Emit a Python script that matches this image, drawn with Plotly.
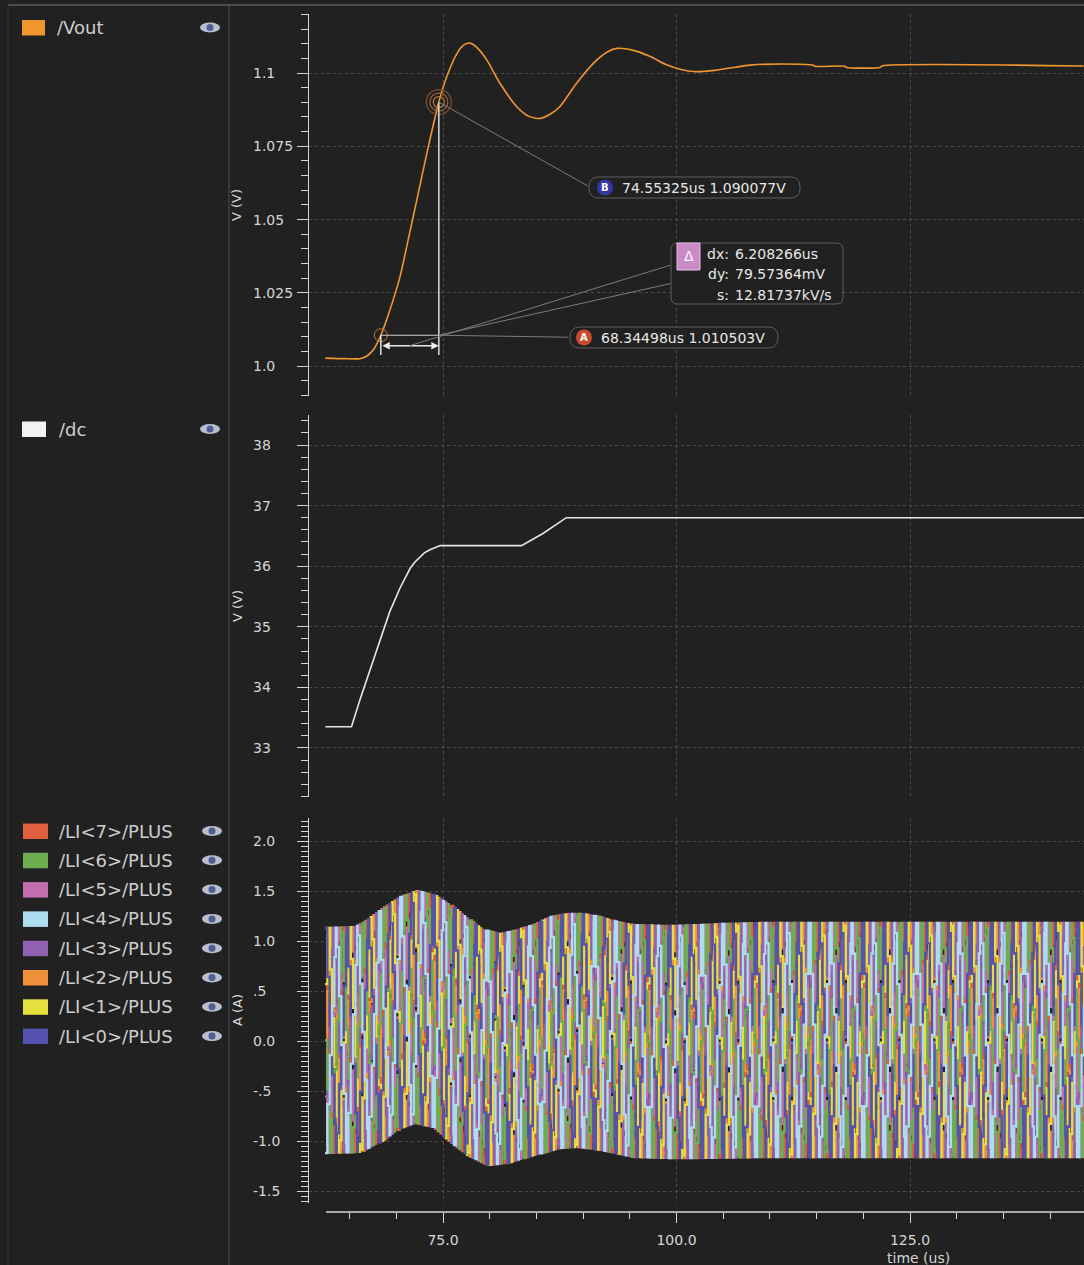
import numpy as np
import plotly.graph_objects as go

W, H = 1084, 1265

# ---------------- data ----------------
# /Vout transient (time in us, volts)
vout_t = [62.4, 64.5, 66.1, 66.9, 67.6, 68.34498, 69.2, 70.4, 71.3, 72.2, 73.3, 74.55325,
          75.4, 76.5, 77.2, 77.9, 78.7, 79.7, 81.1, 82.9, 84.2, 85.4, 86.5, 87.5, 89.3,
          91.1, 92.5, 93.6, 95.3, 97.2, 99.0, 100.5, 101.8, 104.3, 107.9, 111.4, 114.6,
          114.8, 118.0, 118.2, 121.8, 122.0, 143.6]
vout_v = [1.0027, 1.0025, 1.0025, 1.0035, 1.0058, 1.010503, 1.0180, 1.0305, 1.0435, 1.0567,
          1.0730, 1.090077, 1.0987, 1.1067, 1.1095, 1.1102, 1.1085, 1.1044, 1.0965, 1.0885,
          1.0852, 1.0845, 1.0860, 1.0885, 1.0965, 1.1033, 1.1070, 1.1084, 1.1078, 1.1056,
          1.1027, 1.1012, 1.1005, 1.1010, 1.1027, 1.1031, 1.1027, 1.1023, 1.1023, 1.1019,
          1.1019, 1.1024, 1.1024]

# /dc input (time in us, volts)
dc_t = [62.4, 65.2, 66.1, 67.2, 68.25, 69.3, 70.4, 71.5, 72.0, 72.5, 73.0, 73.6, 74.0,
        74.7, 83.4, 85.7, 88.2, 143.6]
dc_v = [33.35, 33.35, 33.79, 34.29, 34.78, 35.25, 35.64, 35.97, 36.07, 36.15, 36.22, 36.27,
        36.30, 36.34, 36.34, 36.54, 36.80, 36.80]

# phase-current envelope: peaks and valleys (time in us, amps)
env_hi_t = [62.37, 65.58, 66.86, 68.58, 70.40, 72.22, 73.93, 75.75, 77.57, 79.28, 81.10,
            82.92, 84.64, 86.46, 88.28, 89.99, 91.81, 93.63, 95.34, 98.98, 102.52, 104.66,
            108.9, 118.6, 143.6]
env_hi = [1.13, 1.14, 1.21, 1.33, 1.44, 1.50, 1.46, 1.36, 1.23, 1.11, 1.07, 1.11, 1.16,
          1.24, 1.27, 1.27, 1.24, 1.19, 1.16, 1.15, 1.16, 1.17, 1.18, 1.18, 1.18]
env_lo_t = [62.37, 66.1, 68.58, 70.40, 72.0, 73.93, 75.75, 77.57, 79.71, 81.85, 84.71,
            87.57, 89.4, 91.9, 95.4, 99.0, 102.5, 110.0, 143.6]
env_lo = [-1.12, -1.11, -0.99, -0.87, -0.82, -0.86, -1.01, -1.14, -1.24, -1.22, -1.14,
          -1.07, -1.06, -1.09, -1.16, -1.17, -1.17, -1.16, -1.16]

SW_PERIOD = 2.3    # switching period of each phase, us
COL_STEP = 0.25    # display column width, us (one vertical bar per column)
phase_names = ["/LI<7>/PLUS", "/LI<6>/PLUS", "/LI<5>/PLUS", "/LI<4>/PLUS",
               "/LI<3>/PLUS", "/LI<2>/PLUS", "/LI<1>/PLUS", "/LI<0>/PLUS"]
phase_colors = ["#e0603e", "#6fae50", "#c46eb2", "#aedcf0",
                "#9262b2", "#f0923c", "#e6e03e", "#5552b0"]
phase_index = [7, 6, 5, 4, 3, 2, 1, 0]
draw_order = [7, 2, 5, 3, 1, 6, 0, 4]   # bottom-most first

# cursors
cur_a = (68.34498, 1.010503)
cur_b = (74.55325, 1.090077)
delta_text = [("dx:", "6.208266us"), ("dy:", "79.57364mV"), ("s:", "12.81737kV/s")]

# axis ticks
t_range = [60.653, 143.63]
top_range = [0.98976, 1.12014]
mid_range = [32.191, 38.495]
bot_range = [-1.62, 2.23]
top_ticks = [1.0, 1.025, 1.05, 1.075, 1.1]
top_labels = ["1.0", "1.025", "1.05", "1.075", "1.1"]
mid_ticks = [33, 34, 35, 36, 37, 38]
mid_labels = ["33", "34", "35", "36", "37", "38"]
bot_ticks = [-1.5, -1.0, -0.5, 0.0, 0.5, 1.0, 1.5, 2.0]
bot_labels = ["-1.5", "-1.0", "-.5", "0.0", ".5", "1.0", "1.5", "2.0"]

# ---------------- helpers ----------------
BG = "#212121"
FG = "#d6d6d6"
TXT = "#e8e8e8"
FONT = "DejaVu Sans"


def px(x):
    return x / W


def py(y):
    return 1 - y / H


def pill(x0, y0, x1, y1, r):
    P = lambda x, y: f"{px(x):.5f},{py(y):.5f}"
    return (f"M {P(x0 + r, y0)} L {P(x1 - r, y0)} Q {P(x1, y0)} {P(x1, y0 + r)} "
            f"L {P(x1, y1 - r)} Q {P(x1, y1)} {P(x1 - r, y1)} L {P(x0 + r, y1)} "
            f"Q {P(x0, y1)} {P(x0, y1 - r)} L {P(x0, y0 + r)} Q {P(x0, y0)} {P(x0 + r, y0)} Z")


def label(text, x, y, size=14, color=TXT, xanchor="center", **kw):
    return dict(text=text, x=px(x), y=py(y), xref="paper", yref="paper", xanchor=xanchor,
                yanchor="middle", showarrow=False, font=dict(size=size, color=color), **kw)


fig = go.Figure()

# ---------------- traces ----------------
fig.add_trace(go.Scatter(x=vout_t, y=vout_v, mode="lines", xaxis="x", yaxis="y",
                         line=dict(color="#f0962e", width=1.6, shape="spline", smoothing=0.7),
                         hoverinfo="skip"))
fig.add_trace(go.Scatter(x=dc_t, y=dc_v, mode="lines", xaxis="x2", yaxis="y2",
                         line=dict(color="#e6e6e6", width=1.6), hoverinfo="skip"))

# each phase current swings between the envelope valley and peak every half period;
# like a waveform viewer, every display column shows the span the phase covers in it
n_ph = len(phase_names)
t0, t1 = env_hi_t[0], env_hi_t[-1]
cols = np.arange(t0, t1 + COL_STEP, COL_STEP)
for n in draw_order:
    k = phase_index.index(n)
    tv = np.arange(t0 + n * SW_PERIOD / n_ph - SW_PERIOD, t1 + SW_PERIOD, SW_PERIOD / 2)
    hi = np.interp(tv, env_hi_t, env_hi)
    lo = np.interp(tv, env_lo_t, env_lo)
    vv = np.where(np.arange(len(tv)) % 2 == 0, hi, lo)
    tk = np.union1d(cols, tv[(tv > t0) & (tv < t1)])
    fig.add_trace(go.Scatter(x=tk, y=np.interp(tk, tv, vv), mode="lines", xaxis="x3",
                             yaxis="y3", line=dict(color=phase_colors[k], width=2.3, shape="hv"),
                             hoverinfo="skip"))

# cursor markers
fig.add_trace(go.Scatter(x=[cur_a[0]], y=[cur_a[1]], mode="markers", xaxis="x", yaxis="y",
                         marker=dict(symbol="circle-open", size=13, color="#c07838",
                                     line=dict(color="#c07838", width=1)),
                         hoverinfo="skip"))
for s, c in [(11, "#c07838"), (18, "#9a6436"), (25, "#7a5234")]:
    fig.add_trace(go.Scatter(x=[cur_b[0]], y=[cur_b[1]], mode="markers", xaxis="x", yaxis="y",
                             marker=dict(symbol="circle-open", size=s, color=c,
                                         line=dict(color=c, width=1.2)),
                             hoverinfo="skip"))

# ---------------- axes ----------------
xdom = [px(309), 1.0]
grid = dict(showgrid=True, gridcolor="#4c4c4c", griddash="dot", gridwidth=1)
xcommon = dict(domain=xdom, range=t_range, tick0=0, dtick=25, zeroline=False,
               showline=False, fixedrange=True, **grid)


def yaxis(dom, rng, dtick, minor, tick0):
    return dict(domain=[py(dom[1]), py(dom[0])], range=rng, showline=True, linecolor=FG,
                linewidth=1, ticks="outside", ticklen=11, tickcolor=FG, tickwidth=1,
                tick0=tick0, dtick=dtick, showticklabels=False, zeroline=False,
                fixedrange=True,
                minor=dict(tick0=tick0, dtick=minor, ticks="outside", ticklen=7,
                           tickcolor=FG, tickwidth=1, showgrid=False),
                **grid)


fig.update_layout(
    width=W, height=H, margin=dict(l=0, r=0, t=0, b=0),
    paper_bgcolor=BG, plot_bgcolor=BG, showlegend=False,
    font=dict(family=FONT, color=FG, size=14),
    xaxis=dict(anchor="y", ticks="", showticklabels=False, **xcommon),
    xaxis2=dict(anchor="y2", ticks="", showticklabels=False, **xcommon),
    xaxis3=dict(anchor="free", position=py(1212), ticks="outside", ticklen=10,
                tickcolor=FG, tickwidth=1, tickformat=".1f",
                tickfont=dict(size=14, color=FG), ticklabelstandoff=5,
                minor=dict(tick0=0, dtick=5, ticks="outside", ticklen=6, tickcolor=FG,
                           tickwidth=1, showgrid=False),
                **xcommon),
    yaxis=yaxis((14, 396), top_range, 0.025, 0.005, 1.0),
    yaxis2=yaxis((415, 797), mid_range, 1, 0.2, 33),
    yaxis3=yaxis((818, 1203), bot_range, 0.5, 0.05, 0),
)

shapes = []
ann = []

# frame lines
shapes.append(dict(type="line", xref="paper", yref="paper", x0=px(8), x1=1, y0=py(5), y1=py(5),
                   line=dict(color="#7c7c7c", width=1)))
shapes.append(dict(type="line", xref="paper", yref="paper", x0=px(8), x1=px(8), y0=py(5), y1=0,
                   line=dict(color="#363636", width=1)))
shapes.append(dict(type="line", xref="paper", yref="paper", x0=px(229), x1=px(229), y0=py(5),
                   y1=0, line=dict(color="#4e4e4e", width=1)))
# time axis line
shapes.append(dict(type="line", xref="paper", yref="paper", x0=px(326), x1=1, y0=py(1212),
                   y1=py(1212), line=dict(color=FG, width=1.5)))

# tick labels and axis titles
for ticks, labels, yref in [(top_ticks, top_labels, "y"), (mid_ticks, mid_labels, "y2"),
                            (bot_ticks, bot_labels, "y3")]:
    for v, lab in zip(ticks, labels):
        ann.append(dict(text=lab, x=px(251), xref="paper", xanchor="left", y=v, yref=yref,
                        yanchor="middle", showarrow=False, font=dict(size=14, color=FG)))
for title, yc in [("V (V)", 205), ("V (V)", 606), ("A (A)", 1010)]:
    ann.append(label(title, 237, yc, size=13, color=FG, textangle=-90))
ann.append(label("time (us)", 918, 1258, size=14, color=FG))

# legends


def legend_entry(name, color, yc, sx0, sx1, tx, ex):
    shapes.append(dict(type="rect", xref="paper", yref="paper", x0=px(sx0), x1=px(sx1),
                       y0=py(yc + 8), y1=py(yc - 7.5), fillcolor=color, line=dict(width=0)))
    ann.append(label(name, tx, yc, size=18, color="#cdcdcd", xanchor="left"))
    shapes.append(dict(type="circle", xref="paper", yref="paper", x0=px(ex - 10), x1=px(ex + 10),
                       y0=py(yc + 5), y1=py(yc - 5), fillcolor="#b9bdcc", line=dict(width=0)))
    shapes.append(dict(type="circle", xref="paper", yref="paper", x0=px(ex - 3.5),
                       x1=px(ex + 3.5), y0=py(yc + 3.5), y1=py(yc - 3.5), fillcolor="#4f5f92",
                       line=dict(width=0)))


legend_entry("/Vout", "#f0962e", 27.5, 22, 45, 55, 210)
legend_entry("/dc", "#f2f2f2", 429, 22, 46, 57, 210)
for i, (nm, col) in enumerate(zip(phase_names, phase_colors)):
    legend_entry(nm, col, 831 + i * 29.3, 23, 48, 57, 212)

# cursor geometry in data space
y_base = 1.0 + (366 - 355) * 0.025 / 73.25
y_arrow = 1.0 + (366 - 345.7) * 0.025 / 73.25
for cx, cy in (cur_a, cur_b):
    shapes.append(dict(type="line", xref="x", yref="y", x0=cx, x1=cx, y0=y_base, y1=cy,
                       line=dict(color="#dcdcdc", width=1.5)))
shapes.append(dict(type="line", xref="x", yref="y", x0=cur_a[0], x1=cur_b[0], y0=cur_a[1],
                   y1=cur_a[1], line=dict(color="#cfcfcf", width=1.2)))
ann.append(dict(text="", x=cur_b[0], y=y_arrow, xref="x", yref="y", ax=cur_a[0], ay=y_arrow,
                axref="x", ayref="y", showarrow=True, arrowside="end+start", arrowhead=2,
                arrowsize=1, arrowwidth=1.5, arrowcolor="#ececec", standoff=0, startstandoff=0))

# leader lines from markers to their readouts
ann.append(dict(text="", x=cur_b[0], y=cur_b[1], xref="x", yref="y", ax=151, ay=85,
                showarrow=True, arrowhead=0, arrowwidth=1, arrowcolor="#7c7c7c"))
ann.append(dict(text="", x=cur_b[0], y=cur_a[1], xref="x", yref="y", ax=131, ay=2,
                showarrow=True, arrowhead=0, arrowwidth=1, arrowcolor="#7c7c7c"))
ann.append(dict(text="", x=(cur_a[0] + cur_b[0]) / 2, y=y_arrow, xref="x", yref="y", ax=262,
                ay=-81, showarrow=True, arrowhead=0, arrowwidth=1, arrowcolor="#7c7c7c"))
ann.append(dict(text="", x=cur_b[0], y=cur_a[1], xref="x", yref="y", ax=233, ay=-52,
                showarrow=True, arrowhead=0, arrowwidth=1, arrowcolor="#7c7c7c"))

# readout boxes
shapes.append(dict(type="path", xref="paper", yref="paper", path=pill(589, 177, 800, 198, 10),
                   fillcolor=BG, line=dict(color="#5e5e5e", width=1)))
shapes.append(dict(type="path", xref="paper", yref="paper", path=pill(570, 327, 778, 348, 10),
                   fillcolor=BG, line=dict(color="#5e5e5e", width=1)))
shapes.append(dict(type="path", xref="paper", yref="paper", path=pill(671, 243, 843, 304, 7),
                   fillcolor=BG, line=dict(color="#5e5e5e", width=1)))
for cxp, cyp, col, letter in [(605, 187.5, "#3636a6", "B"), (584, 337.5, "#c8492c", "A")]:
    shapes.append(dict(type="circle", xref="paper", yref="paper", x0=px(cxp - 8), x1=px(cxp + 8),
                       y0=py(cyp + 8), y1=py(cyp - 8), fillcolor=col, line=dict(width=0)))
    ann.append(label(f"<b>{letter}</b>", cxp, cyp, size=10, color="white"))
ann.append(label(f"{cur_b[0]:.5f}us {cur_b[1]:.6f}V", 620, 187.5, xanchor="left"))
ann.append(label(f"{cur_a[0]:.5f}us {cur_a[1]:.6f}V", 599, 337.5, xanchor="left"))
shapes.append(dict(type="rect", xref="paper", yref="paper", x0=px(677), x1=px(700), y0=py(270),
                   y1=py(243), fillcolor="#c98ac6", line=dict(color="#e6bfe4", width=1)))
ann.append(label("Δ", 688.5, 256.5, size=14, color="white"))
for i, (key, val) in enumerate(delta_text):
    yc = 254 + i * 20.5
    ann.append(label(key, 731, yc, xanchor="right"))
    ann.append(label(val, 733, yc, xanchor="left"))

fig.update_layout(shapes=shapes, annotations=ann)

fig.write_html("out.html", config={"displayModeBar": False, "staticPlot": True},
               post_script="document.body.style.margin='0';")
